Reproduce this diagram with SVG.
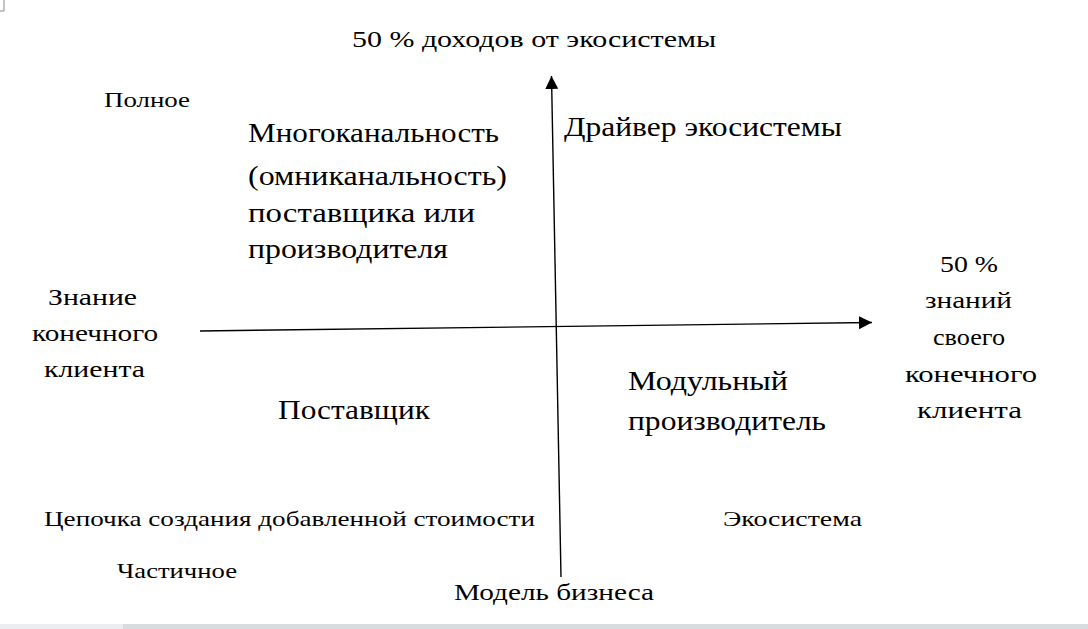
<svg xmlns="http://www.w3.org/2000/svg" width="1088" height="629" viewBox="0 0 1088 629">
  <style>
    text { font-family: "Liberation Serif", "DejaVu Serif", "Times New Roman", serif; fill: #000; }
    .s { font-size: 21px; }
    .m { font-size: 24px; }
    .b { font-size: 28px; }
    .axis { stroke: #000; stroke-width: 1.4; fill: none; }
  </style>
  <defs>
    <marker id="arrow" markerUnits="userSpaceOnUse" markerWidth="14" markerHeight="14" refX="13" refY="6.5" orient="auto">
      <path d="M0,0 L13,6.5 L0,13 z" fill="#000"/>
    </marker>
  </defs>
  <rect width="1088" height="629" fill="#fff"/>
  <path d="M0,11 H4 V0" stroke="#8a8a8a" stroke-width="1" fill="none"/>

  <g id="connectors">
    <line class="axis" x1="561" y1="577" x2="551.5" y2="76" marker-end="url(#arrow)"/>
    <line class="axis" x1="200" y1="331" x2="872" y2="322.5" marker-end="url(#arrow)"/>
  </g>

  <g font-family="Liberation Serif, DejaVu Serif, serif">
  <g id="top-label">
    <text class="m" x="352" y="47" textLength="364" lengthAdjust="spacingAndGlyphs">50 % доходов от экосистемы</text>
  </g>
  <g id="full">
    <text class="s" x="104" y="107" textLength="86" lengthAdjust="spacingAndGlyphs">Полное</text>
  </g>
  <g id="multichannel">
    <text class="b" x="248" y="142" textLength="251" lengthAdjust="spacingAndGlyphs">Многоканальность</text>
    <text class="b" x="248" y="185" textLength="259" lengthAdjust="spacingAndGlyphs">(омниканальность)</text>
    <text class="b" x="248" y="222" textLength="227" lengthAdjust="spacingAndGlyphs">поставщика или</text>
    <text class="b" x="248" y="258" textLength="200" lengthAdjust="spacingAndGlyphs">производителя</text>
  </g>
  <g id="driver">
    <text class="b" x="564" y="136" textLength="278" lengthAdjust="spacingAndGlyphs">Драйвер экосистемы</text>
  </g>
  <g id="right-label">
    <text class="m" x="940" y="272" textLength="58" lengthAdjust="spacingAndGlyphs">50 %</text>
    <text class="m" x="925" y="308" textLength="87" lengthAdjust="spacingAndGlyphs">знаний</text>
    <text class="m" x="933" y="345" textLength="72" lengthAdjust="spacingAndGlyphs">своего</text>
    <text class="m" x="905" y="382" textLength="132" lengthAdjust="spacingAndGlyphs">конечного</text>
    <text class="m" x="917" y="418" textLength="105" lengthAdjust="spacingAndGlyphs">клиента</text>
  </g>
  <g id="left-label">
    <text class="m" x="48" y="305" textLength="89" lengthAdjust="spacingAndGlyphs">Знание</text>
    <text class="m" x="32" y="341" textLength="126" lengthAdjust="spacingAndGlyphs">конечного</text>
    <text class="m" x="44" y="377" textLength="101" lengthAdjust="spacingAndGlyphs">клиента</text>
  </g>
  <g id="supplier">
    <text class="b" x="278" y="419" textLength="152" lengthAdjust="spacingAndGlyphs">Поставщик</text>
  </g>
  <g id="modular">
    <text class="b" x="628" y="390" textLength="160" lengthAdjust="spacingAndGlyphs">Модульный</text>
    <text class="b" x="628" y="430" textLength="198" lengthAdjust="spacingAndGlyphs">производитель</text>
  </g>
  <g id="value-chain">
    <text class="s" x="44" y="526" textLength="491" lengthAdjust="spacingAndGlyphs">Цепочка создания добавленной стоимости</text>
  </g>
  <g id="ecosystem">
    <text class="s" x="723" y="526" textLength="139" lengthAdjust="spacingAndGlyphs">Экосистема</text>
  </g>
  <g id="partial">
    <text class="s" x="117" y="578" textLength="120" lengthAdjust="spacingAndGlyphs">Частичное</text>
  </g>
  <g id="business-model">
    <text class="m" x="454" y="600" textLength="200" lengthAdjust="spacingAndGlyphs">Модель бизнеса</text>
  </g>
  </g>

  <rect x="0" y="624" width="1088" height="5" fill="#d9dcdf"/>
  <rect x="0" y="624" width="123" height="5" fill="#ecedf1"/>
</svg>
